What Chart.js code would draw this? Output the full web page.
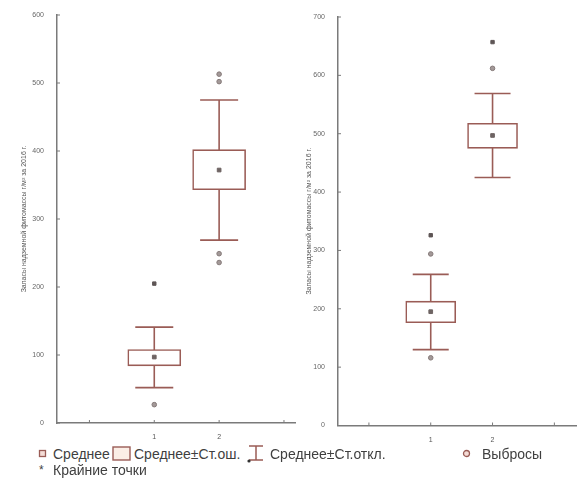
<!DOCTYPE html>
<html>
<head>
<meta charset="utf-8">
<script src="https://cdn.jsdelivr.net/npm/chart.js@4/dist/chart.umd.min.js"></script>
<style>
    body { margin: 0; background: #fff; width: 581px; height: 487px; position: relative; overflow: hidden; font-family: "Liberation Sans", Arial, sans-serif; }
    .plot { position: absolute; top: 0; height: 445px; }
    .lg { position: absolute; font-size: 14px; color: #3f3f3f; line-height: 14px; white-space: nowrap; }
    .ic { position: absolute; }
</style>
</head>
<body>
<div class="plot" style="left:0; width:300px;"><canvas id="leftChart"></canvas></div>
<div class="plot" style="left:285px; width:296px;"><canvas id="rightChart"></canvas></div>

<!-- legend -->
<svg class="ic" style="left:38px; top:449px;" width="10" height="10"><rect x="1.5" y="1.5" width="6" height="6" fill="#f4dcd6" stroke="#9a5c56" stroke-width="1.3"/></svg>
<div class="lg" style="left:53px; top:447px;">Среднее</div>
<svg class="ic" style="left:112px; top:446px;" width="20" height="16"><rect x="1" y="1" width="17" height="13" fill="#fbeee6" stroke="#9a5c56" stroke-width="1.4"/></svg>
<div class="lg" style="left:134px; top:447px;">Среднее±Ст.ош.</div>
<svg class="ic" style="left:246px; top:444px;" width="20" height="20"><path d="M3 2 H17 M10 2 V16 M3 16 H17" stroke="#9a5c56" stroke-width="1.5" fill="none"/><circle cx="3" cy="17" r="1.6" fill="#333"/></svg>
<div class="lg" style="left:270px; top:447px;">Среднее±Ст.откл.</div>
<svg class="ic" style="left:462px; top:449px;" width="10" height="10"><circle cx="4.5" cy="4.5" r="3" fill="#f4dcd6" stroke="#9a5c56" stroke-width="1.3"/></svg>
<div class="lg" style="left:482px; top:447px;">Выбросы</div>
<div class="lg" style="left:39px; top:463px; font-size:12px;">*</div>
<div class="lg" style="left:53px; top:463px;">Крайние точки</div>

<script>
// groups on the x axis
const groups = [1, 2];
const xTickLabels = { 1: '1', 2: '2' };
const yTitle = 'Запасы надземной фитомассы г/м² за 2016 г.';

// left plot
const leftMean = [97, 372];
const leftSeLow = [84, 343];
const leftSeHigh = [108, 402];
const leftSdLow = [52, 269];
const leftSdHigh = [141, 475];
const leftOutlierGroup = [1, 2, 2, 2, 2];
const leftOutlierValue = [27, 513, 502, 249, 236];
const leftExtremeGroup = [1];
const leftExtremeValue = [205];

// right plot
const rightMean = [195, 497];
const rightSeLow = [176, 475];
const rightSeHigh = [213, 518];
const rightSdLow = [130, 425];
const rightSdHigh = [259, 569];
const rightOutlierGroup = [1, 1, 2];
const rightOutlierValue = [294, 116, 612];
const rightExtremeGroup = [1, 2];
const rightExtremeValue = [326, 657];

const lineColor = '#9a5c56';
const axisColor = '#7a7a7a';

// whiskers (mean +- sd) drawn under the boxes
const whiskerPlugin = {
    id: 'whiskers',
    beforeDatasetsDraw(chart, args, opts) {
        const { ctx } = chart;
        const xs = chart.scales.x, ys = chart.scales.y;
        ctx.save();
        ctx.strokeStyle = lineColor;
        ctx.lineWidth = 1.6;
        opts.low.forEach((lo, i) => {
            const x = xs.getPixelForValue(groups[i]);
            const yLo = ys.getPixelForValue(lo);
            const yHi = ys.getPixelForValue(opts.high[i]);
            const half = opts.capWidth / 2;
            ctx.beginPath();
            ctx.moveTo(x, yLo); ctx.lineTo(x, yHi);
            ctx.moveTo(x - half, yLo); ctx.lineTo(x + half, yLo);
            ctx.moveTo(x - half, yHi); ctx.lineTo(x + half, yHi);
            ctx.stroke();
        });
        ctx.restore();
    }
};

// small tick marks pointing into the plot
const innerTicksPlugin = {
    id: 'innerTicks',
    afterDraw(chart) {
        const { ctx, chartArea } = chart;
        const xs = chart.scales.x, ys = chart.scales.y;
        ctx.save();
        ctx.strokeStyle = axisColor;
        ctx.lineWidth = 1;
        ctx.beginPath();
        ys.ticks.forEach(t => {
            const y = ys.getPixelForValue(t.value);
            ctx.moveTo(chartArea.left, y); ctx.lineTo(chartArea.left + 3, y);
        });
        xs.ticks.forEach(t => {
            const x = xs.getPixelForValue(t.value);
            ctx.moveTo(x, chartArea.bottom); ctx.lineTo(x, chartArea.bottom - 3);
        });
        ctx.stroke();
        ctx.restore();
    }
};

function makeBoxChart(id, cfg) {
    const points = (g, v) => g.map((gr, i) => ({ x: gr, y: v[i] }));
    return new Chart(document.getElementById(id), {
        type: 'bar',
        data: {
            datasets: [
                {
                    type: 'bar',
                    data: groups.map((g, i) => ({ x: g, y: [cfg.seLow[i], cfg.seHigh[i]] })),
                    backgroundColor: '#ffffff',
                    borderColor: lineColor,
                    borderWidth: 1.6,
                    borderSkipped: false,
                    barThickness: cfg.boxWidth,
                    order: 2
                },
                {
                    type: 'scatter',
                    data: points(groups, cfg.mean),
                    pointStyle: 'rect',
                    pointRadius: 2.6,
                    backgroundColor: '#6e6463',
                    borderColor: '#6e6463',
                    order: 1
                },
                {
                    type: 'scatter',
                    data: points(cfg.outGroup, cfg.outValue),
                    pointStyle: 'circle',
                    pointRadius: 2.3,
                    backgroundColor: '#a39998',
                    borderColor: '#857a79',
                    borderWidth: 1,
                    order: 1
                },
                {
                    type: 'scatter',
                    data: points(cfg.extGroup, cfg.extValue),
                    pointStyle: 'rect',
                    pointRadius: 2.4,
                    backgroundColor: '#5e5656',
                    borderColor: '#5e5656',
                    order: 1
                }
            ]
        },
        options: {
            responsive: true,
            maintainAspectRatio: false,
            animation: false,
            layout: { padding: { top: cfg.padTop, right: cfg.padRight, left: 0, bottom: 0 } },
            plugins: {
                legend: { display: false },
                tooltip: { enabled: false },
                whiskers: { low: cfg.sdLow, high: cfg.sdHigh, capWidth: cfg.capWidth }
            },
            scales: {
                x: {
                    type: 'linear',
                    offset: false,
                    min: -0.5,
                    max: cfg.xMax,
                    afterFit(scale) { scale.height = cfg.xHeight; },
                    afterBuildTicks(scale) {
                        scale.ticks = [0, 1, 2, 3].map(v => ({ value: v }));
                    },
                    grid: { display: false, offset: false },
                    border: { display: true, color: axisColor, width: 1.5 },
                    ticks: {
                        padding: 2,
                        color: '#555',
                        font: { size: 7, family: 'Liberation Sans' },
                        callback: v => xTickLabels[v] || ''
                    }
                },
                y: {
                    min: 0,
                    max: cfg.yMax,
                    afterFit(scale) { scale.width = cfg.yWidth; },
                    grid: { display: false },
                    border: { display: true, color: axisColor, width: 1.5 },
                    ticks: {
                        stepSize: 100,
                        padding: 5,
                        color: '#666',
                        font: { size: 7, family: 'Liberation Sans' }
                    },
                    title: {
                        display: true,
                        text: yTitle,
                        color: '#555',
                        font: { size: 7, family: 'Liberation Sans' },
                        padding: { top: 20, bottom: 0 }
                    }
                }
            }
        },
        plugins: [whiskerPlugin, innerTicksPlugin]
    });
}

makeBoxChart('leftChart', {
    mean: leftMean, seLow: leftSeLow, seHigh: leftSeHigh, sdLow: leftSdLow, sdHigh: leftSdHigh,
    outGroup: leftOutlierGroup, outValue: leftOutlierValue,
    extGroup: leftExtremeGroup, extValue: leftExtremeValue,
    yMax: 600, xMax: 3.17, yWidth: 57, xHeight: 22, padTop: 15, padRight: 5,
    boxWidth: 53, capWidth: 38
});

makeBoxChart('rightChart', {
    mean: rightMean, seLow: rightSeLow, seHigh: rightSeHigh, sdLow: rightSdLow, sdHigh: rightSdHigh,
    outGroup: rightOutlierGroup, outValue: rightOutlierValue,
    extGroup: rightExtremeGroup, extValue: rightExtremeValue,
    yMax: 700, xMax: 3.35, yWidth: 53, xHeight: 19.5, padTop: 17, padRight: 0,
    boxWidth: 50, capWidth: 36
});
</script>
</body>
</html>
